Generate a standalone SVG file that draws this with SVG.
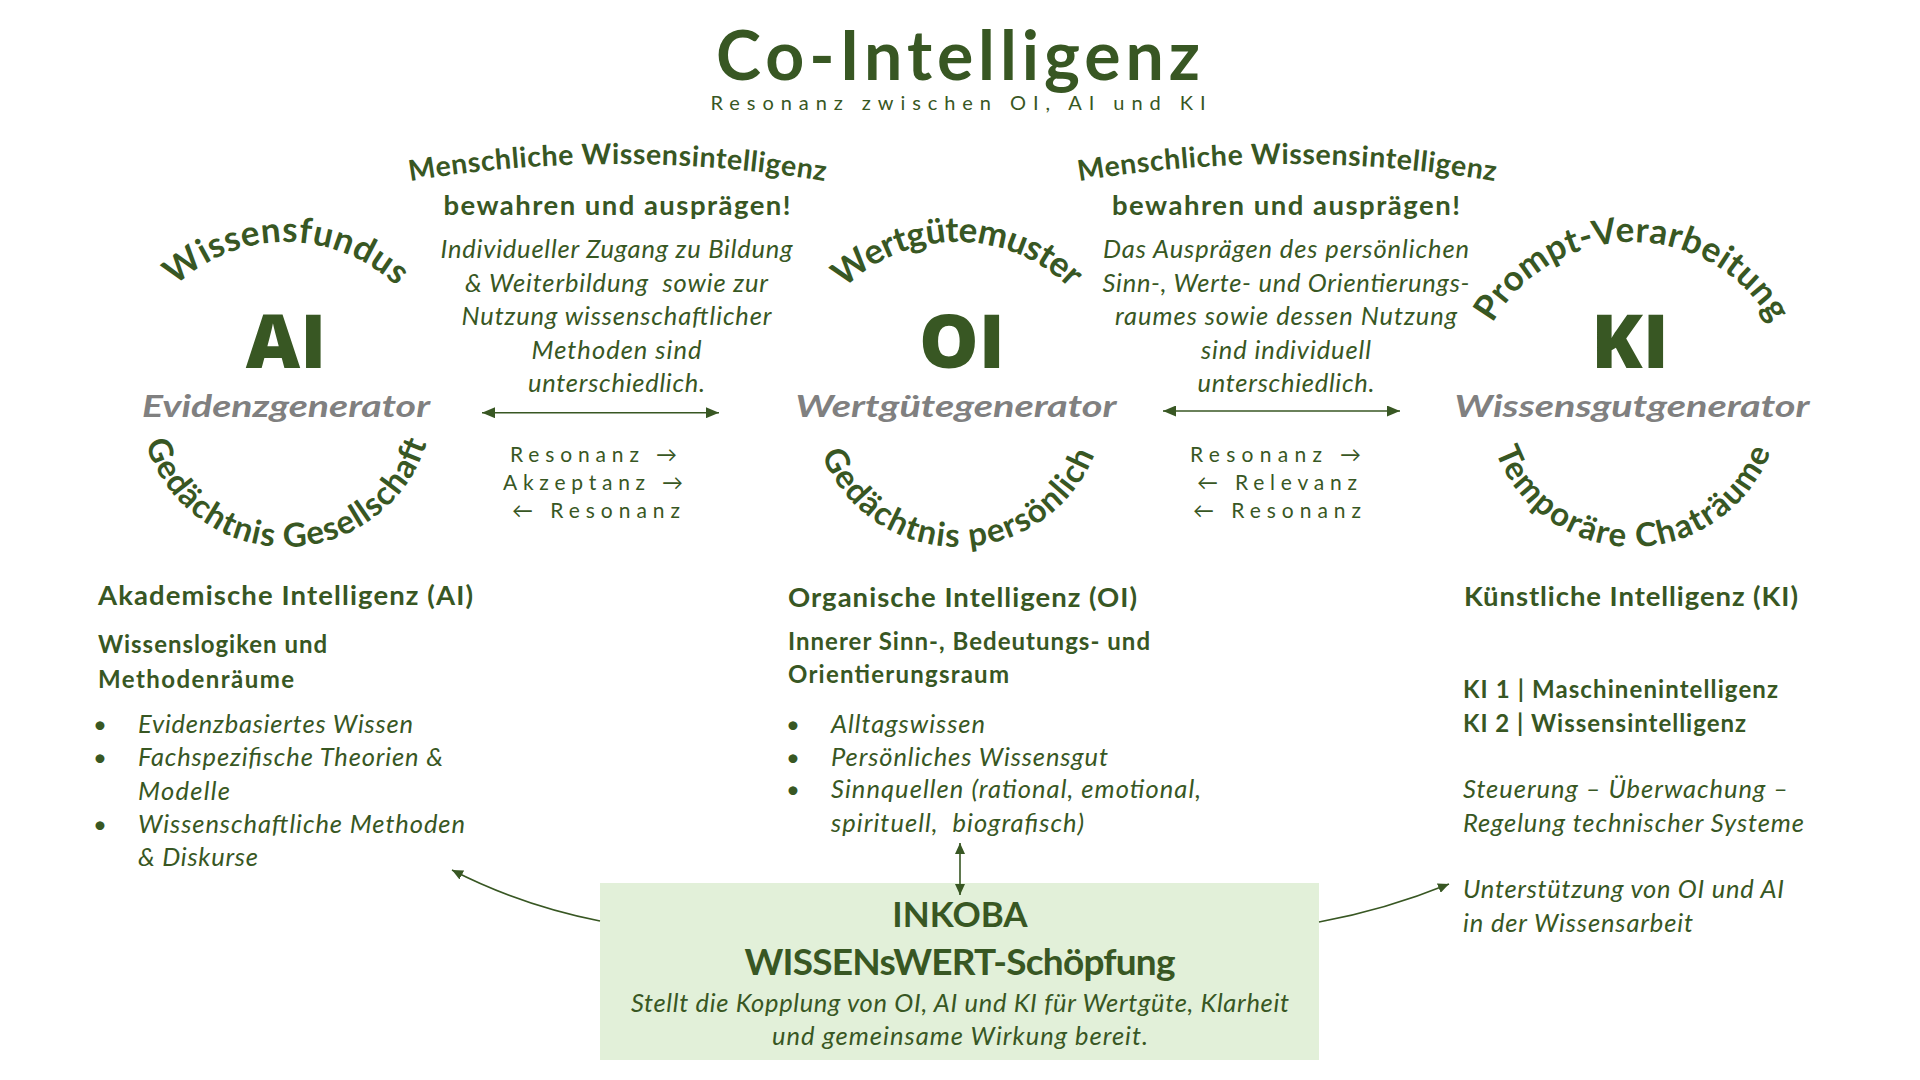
<svg xmlns="http://www.w3.org/2000/svg" xmlns:xlink="http://www.w3.org/1999/xlink" width="1920" height="1080" viewBox="0 0 1920 1080">
<style>
text{fill:#385723;font-family:Lato,"Liberation Sans",sans-serif}
.b{font-weight:700}
.i{font-style:italic}
.big{font-family:"Open Sans",Lato,sans-serif;font-weight:800;font-size:75px;text-anchor:middle}
.gen{fill:#808080;font-weight:700;font-style:italic;font-size:31px;text-anchor:middle}
.arc{font-weight:700;font-size:35px;text-anchor:middle}
.arcb{font-weight:700;font-size:33px;text-anchor:middle}
.men{font-weight:700;font-size:28.5px;text-anchor:middle}
.bew{font-weight:700;font-size:27.5px;text-anchor:middle}
.par{font-style:italic;font-size:25.5px;text-anchor:middle}
.res{font-size:21px;letter-spacing:6px}
.h1{font-weight:700;font-size:27.5px}
.h2{font-weight:700;font-size:24px}
.li{font-style:italic;font-size:25.5px}
.dot{font-size:24px}
.ln{fill:none;stroke:#385723;stroke-width:1.6}
</style>
<defs>
<marker id="ah" viewBox="0 0 10 10" refX="10" refY="5" markerWidth="13" markerHeight="11" markerUnits="userSpaceOnUse" orient="auto-start-reverse" preserveAspectRatio="none"><path d="M0,0 L10,5 L0,10 z" fill="#385723"/></marker>
<marker id="ah2" viewBox="0 0 10 10" refX="10" refY="5" markerWidth="11" markerHeight="10" markerUnits="userSpaceOnUse" orient="auto-start-reverse" preserveAspectRatio="none"><path d="M0,0 L10,5 L0,10 z" fill="#385723"/></marker>
<path id="p-ai-top" d="M 126 402 A 160 160 0 0 1 446 402"/>
<path id="p-oi-top" d="M 797 402 A 160 160 0 0 1 1117 402"/>
<path id="p-ki-top" d="M 1472 402 A 160 160 0 0 1 1792 402"/>
<path id="p-ai-bot" d="M 139 400 A 147 147 0 0 0 433 400"/>
<path id="p-oi-bot" d="M 811 400 A 147 147 0 0 0 1105 400"/>
<path id="p-ki-bot" d="M 1486 400 A 147 147 0 0 0 1780 400"/>
<path id="p-men-l" d="M 405 182 Q 615 146 830 182"/>
<path id="p-men-r" d="M 1074 182 Q 1287 146 1500 182"/>
</defs>
<rect width="1920" height="1080" fill="#FFFFFF"/>

<g id="title">
<text x="958" y="80" class="b" font-size="68" text-anchor="middle" textLength="484" lengthAdjust="spacing">Co-Intelligenz</text>
<text x="958" y="110" font-size="20" text-anchor="middle" textLength="495" lengthAdjust="spacing">Resonanz zwischen OI, AI und KI</text>
</g>

<g id="node-ai">
<text class="arc"><textPath href="#p-ai-top" startOffset="50%" textLength="244" lengthAdjust="spacing">Wissensfundus</textPath></text>
<text x="286" y="368" class="big">AI</text>
<text x="286" y="417" class="gen" textLength="288" lengthAdjust="spacingAndGlyphs">Evidenzgenerator</text>
<text class="arcb"><textPath href="#p-ai-bot" startOffset="50%" textLength="374" lengthAdjust="spacing">Gedächtnis Gesellschaft</textPath></text>
</g>

<g id="node-oi">
<text class="arc"><textPath href="#p-oi-top" startOffset="50%" textLength="250" lengthAdjust="spacing">Wertgütemuster</textPath></text>
<text x="962" y="368" class="big">OI</text>
<text x="956" y="417" class="gen" textLength="321" lengthAdjust="spacingAndGlyphs">Wertgütegenerator</text>
<text class="arcb"><textPath href="#p-oi-bot" startOffset="50%" textLength="350" lengthAdjust="spacing">Gedächtnis persönlich</textPath></text>
</g>

<g id="node-ki">
<text class="arc"><textPath href="#p-ki-top" startOffset="50%" textLength="338" lengthAdjust="spacing">Prompt-Verarbeitung</textPath></text>
<text x="1630" y="368" class="big">KI</text>
<text x="1632" y="417" class="gen" textLength="355" lengthAdjust="spacingAndGlyphs">Wissensgutgenerator</text>
<text class="arcb"><textPath href="#p-ki-bot" startOffset="50%" textLength="356" lengthAdjust="spacing">Temporäre Chaträume</textPath></text>
</g>

<g id="bridge-left">
<text class="men"><textPath href="#p-men-l" startOffset="50%" textLength="417" lengthAdjust="spacing">Menschliche Wissensintelligenz</textPath></text>
<text x="617" y="215" class="bew" textLength="347" lengthAdjust="spacing">bewahren und ausprägen!</text>
<text x="616.5" y="258" class="par" textLength="352" lengthAdjust="spacing">Individueller Zugang zu Bildung</text>
<text x="616.5" y="292" class="par" textLength="303" lengthAdjust="spacing" xml:space="preserve">&amp; Weiterbildung  sowie zur</text>
<text x="616.5" y="325" class="par" textLength="310" lengthAdjust="spacing">Nutzung wissenschaftlicher</text>
<text x="616.5" y="359" class="par" textLength="170" lengthAdjust="spacing">Methoden sind</text>
<text x="616.5" y="392" class="par" textLength="177" lengthAdjust="spacing">unterschiedlich.</text>
<text x="510" y="462" class="res" textLength="173" lengthAdjust="spacing">Resonanz →</text>
<text x="503" y="490" class="res" textLength="186" lengthAdjust="spacing">Akzeptanz →</text>
<text x="512" y="518" class="res" textLength="174" lengthAdjust="spacing">← Resonanz</text>
</g>

<g id="bridge-right">
<text class="men"><textPath href="#p-men-r" startOffset="50%" textLength="418" lengthAdjust="spacing">Menschliche Wissensintelligenz</textPath></text>
<text x="1286" y="215" class="bew" textLength="348" lengthAdjust="spacing">bewahren und ausprägen!</text>
<text x="1286" y="258" class="par" textLength="366" lengthAdjust="spacing">Das Ausprägen des persönlichen</text>
<text x="1286" y="292" class="par" textLength="367" lengthAdjust="spacing">Sinn-, Werte- und Orientierungs-</text>
<text x="1286" y="325" class="par" textLength="342" lengthAdjust="spacing">raumes sowie dessen Nutzung</text>
<text x="1286" y="359" class="par" textLength="170" lengthAdjust="spacing">sind individuell</text>
<text x="1286" y="392" class="par" textLength="177" lengthAdjust="spacing">unterschiedlich.</text>
<text x="1190" y="462" class="res" textLength="177" lengthAdjust="spacing">Resonanz →</text>
<text x="1197" y="490" class="res" textLength="166" lengthAdjust="spacing">← Relevanz</text>
<text x="1193" y="518" class="res" textLength="174" lengthAdjust="spacing">← Resonanz</text>
</g>

<g id="col-ai">
<text x="98" y="605" class="h1" textLength="375" lengthAdjust="spacing">Akademische Intelligenz (AI)</text>
<text x="98" y="653" class="h2" textLength="229" lengthAdjust="spacing">Wissenslogiken und</text>
<text x="98" y="688" class="h2" textLength="196" lengthAdjust="spacing">Methodenräume</text>
<text x="93" y="733" class="dot">•</text>
<text x="138" y="733" class="li" textLength="275" lengthAdjust="spacing">Evidenzbasiertes Wissen</text>
<text x="93" y="766" class="dot">•</text>
<text x="138" y="766" class="li" textLength="305" lengthAdjust="spacing">Fachspezifische Theorien &amp;</text>
<text x="138" y="800" class="li" textLength="92" lengthAdjust="spacing">Modelle</text>
<text x="93" y="833" class="dot">•</text>
<text x="138" y="833" class="li" textLength="327" lengthAdjust="spacing">Wissenschaftliche Methoden</text>
<text x="138" y="866" class="li" textLength="120" lengthAdjust="spacing">&amp; Diskurse</text>
</g>

<g id="col-oi">
<text x="788" y="607" class="h1" textLength="349" lengthAdjust="spacing">Organische Intelligenz (OI)</text>
<text x="788" y="650" class="h2" textLength="362" lengthAdjust="spacing">Innerer Sinn-, Bedeutungs- und</text>
<text x="788" y="683" class="h2" textLength="221" lengthAdjust="spacing">Orientierungsraum</text>
<text x="786" y="733" class="dot">•</text>
<text x="831" y="733" class="li" textLength="154" lengthAdjust="spacing">Alltagswissen</text>
<text x="786" y="766" class="dot">•</text>
<text x="831" y="766" class="li" textLength="277" lengthAdjust="spacing">Persönliches Wissensgut</text>
<text x="786" y="798" class="dot">•</text>
<text x="831" y="798" class="li" textLength="370" lengthAdjust="spacing">Sinnquellen (rational, emotional,</text>
<text x="831" y="832" class="li" textLength="253" lengthAdjust="spacing" xml:space="preserve">spirituell,  biografisch)</text>
</g>

<g id="col-ki">
<text x="1464" y="606" class="h1" textLength="334" lengthAdjust="spacing">Künstliche Intelligenz (KI)</text>
<text x="1463" y="698" class="h2" textLength="315" lengthAdjust="spacing">KI 1 | Maschinenintelligenz</text>
<text x="1463" y="732" class="h2" textLength="283" lengthAdjust="spacing">KI 2 | Wissensintelligenz</text>
<text x="1463" y="798" class="li" textLength="325" lengthAdjust="spacing">Steuerung – Überwachung –</text>
<text x="1463" y="832" class="li" textLength="341" lengthAdjust="spacing">Regelung technischer Systeme</text>
<text x="1463" y="898" class="li" textLength="321" lengthAdjust="spacing">Unterstützung von OI und AI</text>
<text x="1463" y="932" class="li" textLength="230" lengthAdjust="spacing">in der Wissensarbeit</text>
</g>

<g id="node-inkoba">
<rect x="600" y="883" width="719" height="177" fill="#E2F0D9"/>
<text x="960" y="927" class="b" font-size="35" text-anchor="middle">INKOBA</text>
<text x="960" y="975" class="b" font-size="37" text-anchor="middle" textLength="431" lengthAdjust="spacing">WISSENsWERT-Schöpfung</text>
<text x="960" y="1012" class="li" text-anchor="middle" textLength="658" lengthAdjust="spacing">Stellt die Kopplung von OI, AI und KI für Wertgüte, Klarheit</text>
<text x="960" y="1045" class="li" text-anchor="middle" textLength="376" lengthAdjust="spacing">und gemeinsame Wirkung bereit.</text>
</g>

<g id="connectors">
<path class="ln" d="M 482 412.7 L 719 412.7" marker-start="url(#ah)" marker-end="url(#ah)"/>
<path class="ln" d="M 1163 411 L 1400 411" marker-start="url(#ah)" marker-end="url(#ah)"/>
<path class="ln" d="M 960 843 L 960 895" stroke-width="1.4" marker-start="url(#ah2)" marker-end="url(#ah2)"/>
<path class="ln" d="M 600 921 Q 520 905 452 870" stroke-width="1.3" marker-end="url(#ah2)"/>
<path class="ln" d="M 1319 922 Q 1385 910 1449 884" stroke-width="1.3" marker-end="url(#ah2)"/>
</g>
</svg>
